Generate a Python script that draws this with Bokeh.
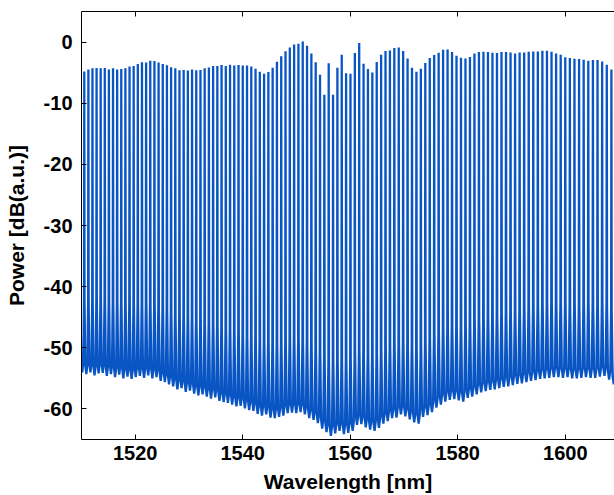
import numpy as np
from bokeh.plotting import figure
from bokeh.models import LinearAxis, FixedTicker, Range1d
from bokeh.embed import file_html
from bokeh.resources import INLINE

# ---------------- data ----------------
C_NM_THZ = 299792.458           # speed of light, nm*THz
first_channel_thz = 198.47      # 100 GHz comb, first visible line (~1510.5 nm)
channel_spacing_thz = 0.1

# peak power of each comb line, dB (left to right)
peak_top_db = [
    -4.8, -4.5, -4.3, -4.25, -4.3, -4.25, -4.5, -4.3, -4.5, -4.4,
    -4.3, -4.0, -3.9, -3.6, -3.3, -3.35, -3.05, -3.1, -3.35, -3.6,
    -3.8, -4.1, -4.3, -4.6, -4.55, -4.65, -4.5, -4.6, -4.55, -4.3,
    -4.15, -3.9, -3.9, -3.75, -3.9, -3.7, -3.85, -3.75, -3.85, -3.85,
    -4.0, -4.36, -4.85, -5.2, -4.9, -4.2, -3.2, -2.3, -1.5, -0.87,
    -0.38, -0.27, 0.1, -0.6, -1.85, -3.3, -5.35, -8.6, -3.45, -8.6,
    -4.2, -2.07, -5.1, -5.2, -1.8, -0.15, -3.55, -4.4, -4.96, -3.27,
    -2.07, -1.47, -1.36, -0.98, -0.87, -1.47, -2.7, -4.2, -4.85, -4.36,
    -3.44, -2.6, -2.12, -1.74, -1.25, -1.2, -1.64, -2.23, -2.56, -2.67,
    -2.45, -1.85, -1.64, -1.6, -1.64, -1.74, -1.8, -1.64, -1.64, -1.7,
    -1.85, -1.7, -1.7, -1.6, -1.53, -1.53, -1.42, -1.42, -1.6, -1.85,
    -2.07, -2.5, -2.6, -2.73, -2.78, -2.9, -3.05, -2.95, -2.95, -3.16,
    -3.7, -4.47,
]

# floor between neighbouring lines, dB (one before the first line, then one after each line)
valley_db = [
    -54.0,
    -54.3, -54.0, -54.5, -54.2, -54.1, -54.6, -54.3, -54.8, -54.4, -55.0,
    -54.7, -55.1, -54.8, -54.6, -54.9, -54.5, -55.0, -54.8, -55.4, -55.6,
    -56.0, -56.3, -56.8, -56.6, -57.2, -57.0, -57.5, -57.8, -57.6, -58.0,
    -58.3, -58.1, -58.7, -58.9, -59.0, -59.3, -59.6, -59.5, -59.9, -60.2,
    -60.3, -60.8, -61.1, -60.9, -61.4, -61.5, -61.3, -61.1, -60.7, -60.6,
    -60.7, -60.5, -60.9, -61.5, -61.8, -62.3, -63.2, -63.8, -64.4, -64.0,
    -63.6, -64.1, -63.9, -63.6, -62.6, -62.5, -63.0, -63.4, -63.6, -63.1,
    -62.4, -62.0, -61.5, -61.4, -60.9, -61.2, -61.7, -62.2, -62.4, -61.3,
    -61.0, -60.5, -59.8, -59.3, -58.8, -58.5, -58.4, -58.6, -58.8, -58.2,
    -58.0, -57.6, -57.3, -57.1, -56.9, -56.8, -56.6, -56.4, -56.3, -56.1,
    -55.9, -55.8, -55.6, -55.4, -55.3, -55.1, -55.0, -54.9, -54.8, -54.8,
    -54.9, -54.8, -55.0, -55.0, -54.9, -54.8, -54.9, -54.9, -54.7, -54.6,
    -55.2, -56.0,
]

x_ticks = [1520, 1540, 1560, 1580, 1600]
y_ticks = [-60, -50, -40, -30, -20, -10, 0]

# ---------------- line-shape styling (spike profile) ----------------
# (height above floor in dB, half-width as fraction of the line spacing)
SPIKE_PROFILE = [(12.0, 0.06), (1.5, 0.24)]

n = len(peak_top_db)
# channel wavelengths on the 100 GHz grid, incl. one neighbour on each side (outside the view)
freqs = first_channel_thz - channel_spacing_thz * np.arange(-1, n + 1)
wl = C_NM_THZ / freqs


def right_flank(center, spacing, floor):
    return ([center + f * spacing for _, f in SPIKE_PROFILE],
            [floor + h for h, _ in SPIKE_PROFILE])


def left_flank(center, spacing, floor):
    prof = SPIKE_PROFILE[::-1]
    return ([center - f * spacing for _, f in prof],
            [floor + h for h, _ in prof])


xs, ys = [], []
fx, fy = right_flank(wl[0], wl[1] - wl[0], valley_db[0])
xs += fx + [0.5 * (wl[0] + wl[1])]
ys += fy + [valley_db[0]]
for k in range(n):
    c = wl[k + 1]
    lx, ly = left_flank(c, wl[k + 1] - wl[k], valley_db[k])
    rx, ry = right_flank(c, wl[k + 2] - wl[k + 1], valley_db[k + 1])
    xs += lx + [c] + rx + [0.5 * (c + wl[k + 2])]
    ys += ly + [peak_top_db[k]] + ry + [valley_db[k + 1]]
lx, ly = left_flank(wl[n + 1], wl[n + 1] - wl[n], valley_db[n])
xs += lx
ys += ly

# ---------------- figure ----------------
p = figure(width=614, height=495,
           x_range=Range1d(1510, 1609.16), y_range=Range1d(-65, 5),
           output_backend="svg", toolbar_location=None,
           min_border_left=81, min_border_right=0, min_border_top=11, min_border_bottom=56)

p.line(xs, ys, line_color="#0a55c4", line_width=2.3)

p.grid.visible = False
p.outline_line_color = None
p.background_fill_color = "white"
p.border_fill_color = "white"

FONT = "Liberation Sans"
for ax in (p.xaxis[0], p.yaxis[0]):
    ax.major_tick_in = 5
    ax.major_tick_out = 0
    ax.minor_tick_line_color = None
    ax.axis_line_color = "black"
    ax.axis_line_width = 1
    ax.major_tick_line_color = "black"
    ax.major_label_text_font = FONT
    ax.major_label_text_font_style = "bold"
    ax.major_label_text_font_size = "20px"
    ax.major_label_text_color = "black"
    ax.axis_label_text_font = FONT
    ax.axis_label_text_font_style = "bold"
    ax.axis_label_text_font_size = "21px"
    ax.axis_label_text_color = "black"

p.xaxis[0].ticker = FixedTicker(ticks=x_ticks)
p.yaxis[0].ticker = FixedTicker(ticks=y_ticks)
p.xaxis[0].major_label_overrides = {t: str(t) for t in x_ticks}
p.yaxis[0].major_label_overrides = {t: str(t) for t in y_ticks}
p.xaxis[0].axis_label = "Wavelength [nm]"
p.yaxis[0].axis_label = "Power [dB(a.u.)]"
p.xaxis[0].major_label_standoff = 6
p.xaxis[0].axis_label_standoff = 7
p.yaxis[0].major_label_standoff = 9
p.yaxis[0].axis_label_standoff = 13

top = LinearAxis(ticker=FixedTicker(ticks=x_ticks))
top.major_tick_in = 5
top.major_tick_out = 0
top.minor_tick_line_color = None
top.major_label_text_font_size = "1px"
top.major_label_text_color = None
top.major_label_standoff = 0
top.axis_line_color = "black"
top.major_tick_line_color = "black"
p.add_layout(top, "above")

open("out.html", "w").write(file_html(p, INLINE))
